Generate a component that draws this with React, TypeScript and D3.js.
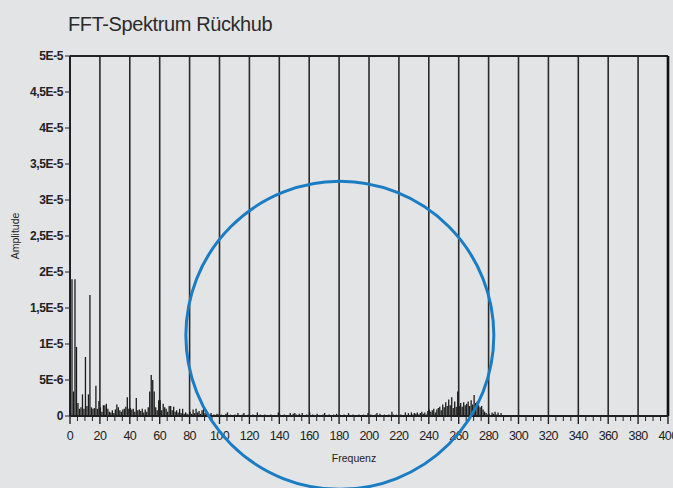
/** FFT spectrum (return stroke) — thin amplitude bars over frequency with a highlight circle. */

import * as d3 from "d3";

// amplitudes in 1e-6, one value per Hz
const lowBandStart = 0;
const lowBandAmps = [
  0.5, 19.0, 3.4, 19.0, 9.6, 1.8, 1.0, 1.2, 3.0, 1.0,
  8.2, 1.4, 3.0, 16.8, 1.2, 1.0, 1.1, 4.2, 1.0, 2.1,
  1.2, 0.6, 1.5, 1.5, 1.7, 1.0, 0.6, 0.5, 0.8, 0.4,
  0.9, 1.6, 1.2, 0.8, 0.6, 0.9, 1.0, 1.3, 2.6, 1.0,
  1.1, 0.9, 1.0, 0.6, 2.5, 0.8, 0.9, 0.7, 1.0, 0.5,
  0.9, 0.6, 1.2, 3.4, 5.7, 5.0, 3.4, 1.2, 0.8, 2.2,
  2.2, 0.8, 1.7, 1.2, 1.0, 0.6, 1.4, 1.4, 0.8, 1.3,
  0.6, 0.8, 0.5, 1.0, 0.4, 1.0, 0.3, 0.5, 0.3, 0.2,
];

const midBandStart = 80;
const midBandAmps = [
  0.6, 0.3, 0.9, 0.4, 1.0, 0.5, 0.7, 0.3, 0.8, 1.0,
  0.4, 0.6, 0.3, 0.2, 0.4, 0.1, 0.2, 0.1, 0.3, 0.2,
  0.1, 0.2, 0.1, 0.1, 0.3, 0.5, 0.1, 0.2, 0.1, 0.1,
  0.2, 0.1, 0.4, 0.1, 0.1, 0.2, 0.4, 0.1, 0.1, 0.2,
  0.1, 0.1, 0.2, 0.1, 0.1, 0.5, 0.1, 0.2, 0.1, 0.1,
  0.2, 0.1, 0.1, 0.1, 0.2, 0.1, 0.1, 0.1, 0.1, 0.5,
  0.2, 0.1, 0.1, 0.2, 0.1, 0.1, 0.1, 0.4, 0.1, 0.3,
  0.4, 0.2, 0.1, 0.3, 0.1, 0.4, 0.1, 0.1, 0.2, 0.1,
  0.5, 0.1, 0.2, 0.1, 0.1, 0.3, 0.1, 0.1, 0.1, 0.2,
  0.4, 0.1, 0.1, 0.2, 0.1, 0.1, 0.2, 0.1, 0.3, 0.1,
  0.2, 0.1, 0.1, 0.2, 0.1, 0.1, 0.4, 0.1, 0.1, 0.2,
  0.1, 0.1, 0.1, 0.2, 0.1, 0.1, 0.2, 0.1, 0.1, 0.4,
  0.1, 0.2, 0.1, 0.1, 0.2, 0.4, 0.1, 0.3, 0.1, 0.1,
  0.2, 0.1, 0.1, 0.2, 0.1, 0.6, 0.2, 0.1, 0.2, 0.1,
  0.1, 0.2, 0.1, 0.1, 0.5, 0.1, 0.4, 0.1, 0.5, 0.2,
  0.4, 0.3, 0.5, 0.2, 0.4, 0.6, 0.3, 0.5, 0.2, 0.7,
];

const highBandStart = 240;
const highBandAmps = [
  0.9, 0.6, 0.8, 1.0, 0.5, 0.9, 1.1, 1.3, 0.8, 1.6,
  1.2, 1.9, 1.4, 2.3, 1.5, 2.6, 1.1, 2.0, 1.3, 3.4,
  1.4, 1.8, 1.3, 1.9, 1.5, 1.7, 2.0, 1.4, 2.2, 1.6,
  2.9, 1.8, 2.0, 1.5, 1.2, 1.4, 0.9, 0.6, 0.4, 0.2,
  0.3, 0.1, 0.5, 0.3, 0.6, 0.2, 0.5, 0.1, 0.4,
];

const yTickValues = [0, 5, 10, 15, 20, 25, 30, 35, 40, 45, 50];
const yTickLabels = ["0", "5E-6", "1E-5", "1,5E-5", "2E-5", "2,5E-5", "3E-5", "3,5E-5", "4E-5", "4,5E-5", "5E-5"];
const xMajorTicks = d3.range(0, 401, 20);
const xMinorTicks = d3.range(0, 401, 5);

// highlight circle, in data units (Hz, 1e-6, radius in Hz)
const highlightCenter = [180.5, 11.2];
const highlightRadiusHz = 103;

const W = 673;
const H = 488;
const margin = { top: 56, right: 5, bottom: 72, left: 70 };
const font = "'Liberation Sans', Arial, sans-serif";

export default function App() {
  const innerW = W - margin.left - margin.right;
  const innerH = H - margin.top - margin.bottom;

  const x = d3.scaleLinear().domain([0, 400]).range([0, innerW]);
  const y = d3.scaleLinear().domain([0, 50]).range([innerH, 0]);

  const spectrum = [
    ...lowBandAmps.map((a, i) => ({ f: lowBandStart + i, a })),
    ...midBandAmps.map((a, i) => ({ f: midBandStart + i, a })),
    ...highBandAmps.map((a, i) => ({ f: highBandStart + i, a })),
  ];

  return (
    <div style={{ position: "fixed", left: 0, top: 0, width: W, height: H, background: "#e3e4e6" }}>
      <svg width={W} height={H} style={{ display: "block", fontFamily: font }}>
        <rect width={W} height={H} fill="#e3e4e6" />
        <text x={68} y={31} fontSize={20} fill="#2b2b2b" letterSpacing={-0.4}>
          FFT-Spektrum Rückhub
        </text>

        <g transform={`translate(${margin.left},${margin.top})`}>
          {/* vertical grid */}
          {xMajorTicks.map((t) => (
            <line key={`g${t}`} x1={x(t)} x2={x(t)} y1={0} y2={innerH} stroke="#2a2a2a" strokeWidth={1.6} />
          ))}
          <line x1={0} x2={innerW} y1={0} y2={0} stroke="#1f1f1f" strokeWidth={2} />
          <line x1={innerW} x2={innerW} y1={0} y2={innerH} stroke="#111" strokeWidth={2.6} />

          {/* spectrum bars */}
          {spectrum.map((d) => (
            <line
              key={`b${d.f}`}
              x1={x(d.f) + 0.5}
              x2={x(d.f) + 0.5}
              y1={y(0)}
              y2={y(d.a)}
              stroke="#1b1b1b"
              strokeWidth={1.3}
            />
          ))}

          {/* axes */}
          <line x1={0} x2={0} y1={0} y2={innerH} stroke="#1f1f1f" strokeWidth={2} />
          <line x1={0} x2={innerW} y1={innerH} y2={innerH} stroke="#1f1f1f" strokeWidth={2} />

          {yTickValues.map((t, i) => (
            <g key={`y${t}`} transform={`translate(0,${y(t)})`}>
              <line x1={-5} x2={0} stroke="#222" strokeWidth={1} />
              <text x={-7} dy="0.35em" textAnchor="end" fontSize={12} fontWeight="bold" fill="#222" letterSpacing={-0.4}>
                {yTickLabels[i]}
              </text>
            </g>
          ))}

          {xMinorTicks.map((t) => (
            <line
              key={`m${t}`}
              x1={x(t)}
              x2={x(t)}
              y1={innerH}
              y2={innerH + (t % 20 === 0 ? 8 : 5)}
              stroke="#222"
              strokeWidth={t % 20 === 0 ? 1.4 : 1}
            />
          ))}
          {xMajorTicks.map((t) => (
            <text key={`xl${t}`} x={x(t)} y={innerH + 24} textAnchor="middle" fontSize={12.5} fill="#222" letterSpacing={-0.6}>
              {t}
            </text>
          ))}

          <text x={innerW / 2 - 15} y={innerH + 46} textAnchor="middle" fontSize={10.5} fill="#222">
            Frequenz
          </text>
          <text
            transform={`translate(${-51},${innerH / 2}) rotate(-90)`}
            textAnchor="middle"
            fontSize={10.5}
            fill="#222"
          >
            Amplitude
          </text>

          {/* highlight */}
          <circle
            cx={x(highlightCenter[0])}
            cy={y(highlightCenter[1])}
            r={x(highlightRadiusHz) - x(0)}
            fill="none"
            stroke="#1a7cc3"
            strokeWidth={3}
          />
        </g>
      </svg>
    </div>
  );
}
